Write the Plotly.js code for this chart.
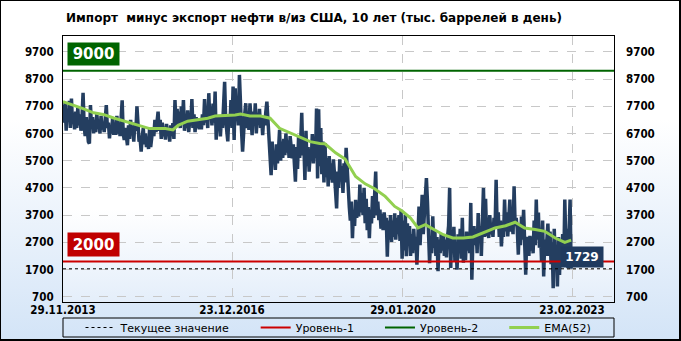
<!DOCTYPE html>
<html>
<head>
<meta charset="utf-8">
<script src="https://cdn.plot.ly/plotly-3.0.1.min.js"></script>
<style>
  html, body { margin: 0; padding: 0; }
  #wrap { position: relative; width: 681px; height: 341px; overflow: hidden;
          background: linear-gradient(to bottom, #ffffff 0%, #ffffff 35%, #d3e4f7 100%); }
  #plotbg { position: absolute; left: 63px; top: 36px; width: 551px; height: 266px;
            background: linear-gradient(to bottom, #ffffff 0%, #ffffff 65%, #e4eefa 100%); }
  #chart { position: absolute; left: 0; top: 0; width: 681px; height: 341px; }
  #frame { position: absolute; left: 0; top: 0; width: 681px; height: 341px; box-sizing: border-box;
           border: 1px solid #000; border-right-width: 2px; border-bottom-width: 2px; pointer-events: none; }
</style>
</head>
<body>
<div id="wrap">
  <div id="plotbg"></div>
  <div id="chart"></div>
  <div id="frame"></div>
</div>
<script>
// ---- data ----
const startDate = [2013, 10, 29]; // 29.11.2013, weekly series
const netImports = [
  7750, 7100, 7850, 6800, 7600, 7200, 7900, 6900, 7980, 7050,
  7300, 6850, 7500, 6900, 7650, 7000, 7400, 6800, 7300, 8190,
  7000, 6600, 7300, 6700, 6400, 6330, 7740, 6900, 7300, 6700,
  7200, 6750, 7450, 6900, 7100, 6700, 7350, 6850, 7050, 6750,
  7200, 7740, 6900, 7100, 6520, 7000, 6700, 7300, 6650, 7050,
  6650, 7350, 6700, 7100, 6600, 7200, 7920, 6700, 6460, 6900,
  6600, 6270, 7000, 6500, 7200, 6700, 6900, 6400, 7100, 6800,
  7700, 6800, 6400, 6500, 6030, 6600, 6900, 6300, 6700, 6200,
  6500, 6130, 6900, 6200, 6600, 6900, 6600, 7200, 6750, 7100,
  7500, 6800, 7200, 6500, 7100, 6600, 6950, 6470, 7050, 6700,
  6900, 6400, 7000, 6600, 7080, 6500, 7930, 7000, 7600, 6960,
  7500, 6900, 7700, 7100, 7930, 6800, 7300, 6900, 7550, 6750,
  7200, 7000, 7960, 6900, 7400, 6750, 7300, 6900, 7250, 6850,
  7200, 6850, 7400, 7000, 7960, 7100, 7500, 6900, 8180, 7200,
  7600, 7000, 7800, 7100, 8240, 6470, 7300, 6800, 7380, 6590,
  7300, 6900, 7600, 8600, 7200, 6800, 6410, 7400, 7000, 7930,
  6900, 8420, 6460, 8360, 7200, 7600, 7000, 8850, 7400, 6800,
  6030, 7000, 7400, 7810, 6900, 7500, 6830, 7810, 7100, 6640,
  7500, 7000, 7810, 6700, 7400, 7100, 7600, 6900, 7300, 6640,
  7300, 7000, 7500, 7870, 7200, 6600, 5800, 5170, 6400, 5600,
  6000, 5360, 6300, 5600, 6100, 6830, 5700, 6400, 5800, 6500,
  5900, 6700, 6000, 6450, 5800, 6600, 6200, 5790, 6300, 5500,
  4930, 6200, 5400, 6600, 5800, 6400, 7460, 5900, 6300, 4990,
  6800, 5500, 6200, 5300, 6000, 5700, 6680, 5600, 6300, 5800,
  7620, 5050, 7590, 5500, 6900, 5200, 6400, 4900, 6350, 5100,
  5800, 4750, 5870, 5000, 5600, 4890, 5750, 5200, 4600, 3950,
  5300, 4700, 5750, 5000, 5500, 4520, 5600, 4900, 6170, 5300,
  4500, 4000, 3500, 4200, 2850, 3900, 3300, 4260, 3600, 4100,
  3650, 4820, 3800, 4500, 3700, 4700, 3400, 4300, 3150, 4000,
  2850, 3900, 3400, 4400, 3600, 4600, 5300, 3700, 4200, 3520,
  3900, 3200, 3750, 3150, 3800, 3400, 3600, 2170, 3500, 2800,
  3700, 2720, 3500, 2900, 3770, 2800, 3600, 3000, 3700, 2750,
  3900, 2100, 3500, 2400, 3720, 2190, 3400, 2600, 3300, 2200,
  3000, 2300, 3200, 2500, 2900, 1880, 3300, 4020, 2600, 3500,
  4450, 3000, 3800, 4600, 5060, 4200, 3000, 1940, 2800, 2300,
  3660, 2500, 3100, 2200, 2900, 1640, 2800, 2300, 3000, 2400,
  2940, 2200, 2800, 2150, 2900, 3300, 4700, 1760, 3100, 2400,
  3270, 2000, 2700, 1700, 3000, 2300, 3200, 2100, 3600, 1950,
  2900, 2050, 3100, 2400, 3000, 2300, 4150, 1330, 2800, 3300,
  2600, 3200, 2300, 3780, 2800, 3300, 2200, 3600, 4700, 2900,
  4300, 2930, 3500, 2860, 3700, 3000, 3400, 2900, 3600, 3200,
  5000, 3200, 3800, 2900, 3500, 2550, 3300, 2900, 4270, 3100,
  3800, 2920, 3600, 4270, 3100, 3500, 3000, 4760, 3300, 3600,
  3200, 2250, 3400, 2600, 3650, 2800, 3900, 3000, 1510, 2900,
  2700, 2200, 2940, 2400, 2900, 2300, 3500, 2600, 4270, 2800,
  3800, 2500, 3100, 2000, 3500, 1450, 2800, 2200, 3000, 3390,
  2200, 3100, 1900, 2700, 1020, 3200, 2000, 2600, 1080, 2900,
  1500, 2800, 2200, 3000, 1800, 4270, 2600, 3200, 1750, 3500, 4270, 1729
];
const emaWeeks = [0, 13, 19, 29, 38, 48, 60, 73, 82, 87, 97, 104, 109, 118, 128, 137, 144, 153, 163, 168,
  177, 187, 196, 205, 215, 224, 234, 243, 248, 258, 267, 277, 286, 295, 305, 314, 321, 329, 336, 343,
  350, 360, 369, 379, 388, 398, 404, 409, 419, 428, 437, 447, 456, 466, 475, 481];
const emaValues = [7870, 7700, 7610, 7460, 7400, 7270, 7130, 7000, 6880, 6880, 6880, 6830, 7000, 7150, 7200, 7260, 7340, 7350, 7380, 7410,
  7340, 7340, 7260, 6890, 6730, 6560, 6400, 6330, 6320, 5990, 5760, 5120, 4850, 4670, 4390, 4020, 3850, 3590, 3230, 3350,
  3190, 2980, 2860, 2860, 2900, 3040, 3150, 3230, 3310, 3440, 3230, 3170, 3105, 2860, 2700, 2780];
const level1 = 2000;
const level2 = 9000;
const currentValue = 1729;
const xRange = ['2013-11-29', '2023-11-28'];
const tickDates = ['2013-11-29', '2016-12-23', '2020-01-29', '2023-02-23'];
const tickLabels = ['29.11.2013', '23.12.2016', '29.01.2020', '23.02.2023'];
const yTicks = [700, 1700, 2700, 3700, 4700, 5700, 6700, 7700, 8700, 9700];
const yRange = [510, 10280];
const titleText = 'Импорт  минус экспорт нефти в/из США, 10 лет (тыс. баррелей в день)';
const legendNames = ['Текущее значение', 'Уровень-1', 'Уровень-2', 'EMA(52)'];

function weekDate(i) {
  const d = new Date(Date.UTC(startDate[0], startDate[1], startDate[2]));
  d.setUTCDate(d.getUTCDate() + 7 * i);
  return d.toISOString().slice(0, 10);
}
const dates = netImports.map((_, i) => weekDate(i));
const emaDates = emaWeeks.map(weekDate);

const FONT = 'DejaVu Sans, Verdana, sans-serif';
const TICKFONT = 'DejaVu Sans Condensed, DejaVu Sans, sans-serif';
const navy = '#243e60';
const pad = '\u00a0\u00a0\u00a0\u00a0\u00a0\u00a0';

const traces = [
  { x: dates, y: netImports, type: 'scatter', mode: 'lines', line: { color: navy, width: 3.5 },
    showlegend: false, hoverinfo: 'skip' },
  { x: emaDates, y: emaValues, type: 'scatter', mode: 'lines', name: legendNames[3], legendrank: 4,
    line: { color: '#92d050', width: 3 } },
  { x: xRange, y: [level1, level1], type: 'scatter', mode: 'lines', name: legendNames[1] + pad, legendrank: 2,
    line: { color: '#cc0000', width: 2 } },
  { x: xRange, y: [level2, level2], type: 'scatter', mode: 'lines', name: legendNames[2] + pad, legendrank: 3,
    line: { color: '#006400', width: 2 } },
  { x: xRange, y: [currentValue, currentValue], type: 'scatter', mode: 'lines', name: legendNames[0] + pad,
    legendrank: 1, yaxis: 'y2', line: { color: '#000', width: 1, dash: '3px,3px' } }
];

const tickFont = { family: TICKFONT, size: 11.5, color: '#000', weight: 'bold' };
const H = 266;
const layout = {
  width: 681, height: 341,
  margin: { l: 63, r: 67, t: 36, b: 39, pad: 0, autoexpand: false },
  paper_bgcolor: 'rgba(0,0,0,0)', plot_bgcolor: 'rgba(0,0,0,0)',
  title: { text: '<b>' + titleText + '</b>', font: { family: FONT, size: 12, color: '#000' },
           xref: 'container', x: 66 / 681, xanchor: 'left', yref: 'container', y: 1 - 18 / 341, yanchor: 'middle' },
  xaxis: { type: 'date', range: xRange, tickvals: tickDates, ticktext: tickLabels, ticks: '',
           showgrid: true, gridcolor: '#c8c8c8', griddash: 'dash', gridwidth: 1,
           showline: true, mirror: true, linecolor: '#000', linewidth: 1, zeroline: false,
           tickfont: tickFont, ticklabelstandoff: -3, fixedrange: true, automargin: false },
  yaxis: { range: yRange, tickvals: yTicks, ticks: '', showgrid: true, gridcolor: '#c8c8c8', griddash: 'dash',
           showline: true, mirror: true, linecolor: '#000', linewidth: 1, zeroline: false,
           tickfont: tickFont, ticklabelstandoff: 6, fixedrange: true, automargin: false },
  yaxis2: { range: yRange, tickvals: yTicks, ticks: '', overlaying: 'y', side: 'right', showgrid: false,
            zeroline: false, showline: false, tickfont: tickFont, ticklabelstandoff: 11, fixedrange: true, automargin: false },
  showlegend: true,
  legend: { orientation: 'h', x: 0.5, xanchor: 'center', y: (302 - 327.5) / H, yanchor: 'middle',
            bgcolor: 'rgba(0,0,0,0)', borderwidth: 0, font: { family: FONT, size: 11, color: '#000' },
            itemwidth: 30, traceorder: 'normal' },
  shapes: [
    { type: 'rect', xref: 'paper', yref: 'paper', x0: 0, x1: 1, y0: (302 - 318) / H, y1: (302 - 337) / H,
      line: { color: '#000', width: 1 }, fillcolor: 'rgba(0,0,0,0)' }
  ],
  annotations: [
    { xref: 'paper', yref: 'y', x: 4 / 551, y: level2, xanchor: 'left', yanchor: 'bottom', yshift: 5,
      text: '<b>' + level2 + '</b>', showarrow: false, bgcolor: '#006400', width: 49, height: 20,
      font: { family: FONT, size: 15, color: '#fff' } },
    { xref: 'paper', yref: 'y', x: 4 / 551, y: level1, xanchor: 'left', yanchor: 'bottom', yshift: 4,
      text: '<b>' + level1 + '</b>', showarrow: false, bgcolor: '#c00000', width: 49, height: 21,
      font: { family: FONT, size: 15, color: '#fff' } },
    { xref: 'paper', yref: 'y', x: (560 - 63) / 551, y: currentValue, xanchor: 'left', yanchor: 'bottom', yshift: 1,
      text: '<b>' + currentValue + '</b>', showarrow: false, bgcolor: '#1f3a5f', width: 40, height: 18,
      font: { family: FONT, size: 12, color: '#fff' } }
  ]
};

Plotly.newPlot('chart', traces, layout, { displayModeBar: false, staticPlot: true });
</script>
</body>
</html>
